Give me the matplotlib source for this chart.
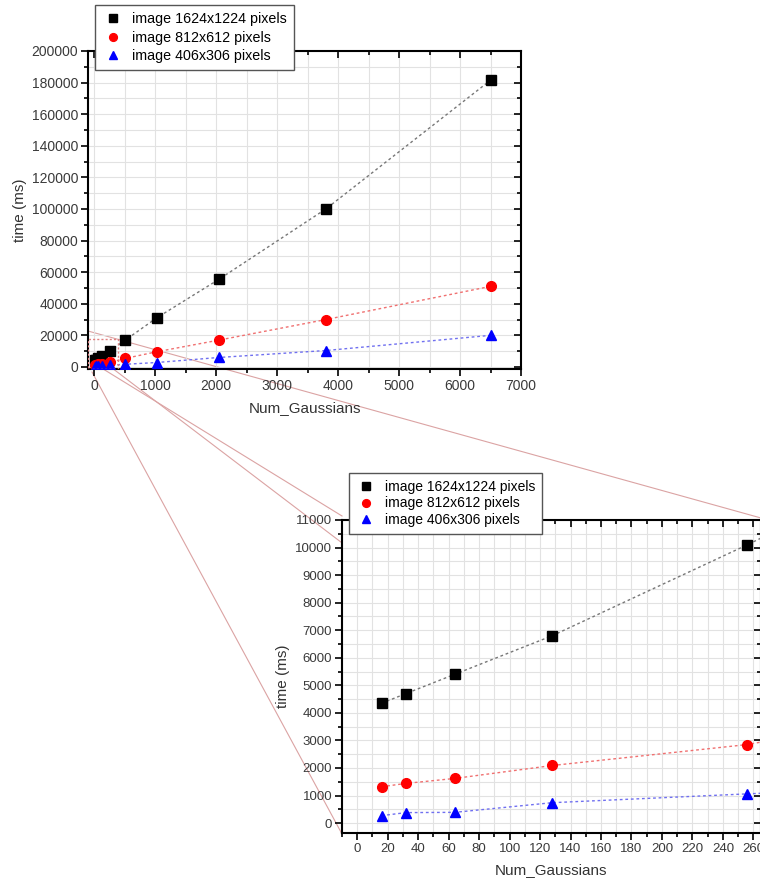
import numpy as np
import matplotlib.pyplot as plt
from matplotlib.lines import Line2D
from matplotlib.patches import Rectangle
from matplotlib.ticker import MultipleLocator

# number of gaussians and run time (ms) per image size
num_gaussians = [16, 32, 64, 128, 256, 512, 1024, 2048, 3800, 6500]
time_1624 = [4350, 4700, 5400, 6800, 10100, 17000, 31000, 55500, 100000, 181500]
time_812 = [1320, 1440, 1620, 2090, 2850, 5400, 9600, 17000, 30000, 51000]
time_406 = [270, 380, 390, 740, 1060, 1700, 2800, 6000, 10400, 20000]

labels = ["image 1624x1224 pixels", "image 812x612 pixels", "image 406x306 pixels"]
series = [time_1624, time_812, time_406]
markers = ["s", "o", "^"]
colors = ["black", "red", "blue"]
line_colors = ["#777777", "#f07070", "#7070f0"]

W, H = 760, 882
plt.rcParams.update({"font.family": ["Liberation Sans", "DejaVu Sans"]})
fig = plt.figure(figsize=(W / 100, H / 100), dpi=100)


def px_box(left, top, right, bottom):
    return [left / W, 1 - bottom / H, (right - left) / W, (bottom - top) / H]


def fig_xy(x, y):
    return x / W, 1 - y / H


def style_axes(ax, tick_fs):
    for s in ax.spines.values():
        s.set_linewidth(1.5)
    ax.tick_params(which="both", top=True, right=True, colors="black",
                   labelcolor="#3a3a3a", labelsize=tick_fs, width=1.2, pad=2)
    ax.tick_params(which="major", length=5)
    ax.tick_params(which="minor", length=3)
    ax.tick_params(axis="both", which="both", direction="out")
    # top/right ticks point inward, like the original
    for t in ax.xaxis.get_major_ticks() + ax.xaxis.get_minor_ticks():
        t.tick2line.set_marker(3)
    for t in ax.yaxis.get_major_ticks() + ax.yaxis.get_minor_ticks():
        t.tick2line.set_marker(0)
    ax.grid(which="both", color="#e2e2e2", linewidth=0.8)
    ax.set_axisbelow(True)


def draw(ax, ms):
    for ys, m, c, lc, lab in zip(series, markers, colors, line_colors, labels):
        ax.plot(num_gaussians, ys, linestyle=(0, (2, 2)), color=lc, linewidth=1.0, zorder=2)
        ax.plot(num_gaussians, ys, linestyle="none", marker=m, color=c,
                markersize=ms, label=lab, zorder=3)


# connector lines between the zoom box and the inset (drawn under the inset)
connectors = [((88, 331), (761, 518)), ((95, 364), (342, 516)),
              ((112, 368), (400, 587)), ((92, 372), (342, 834))]
for p0, p1 in connectors:
    (x0, y0), (x1, y1) = fig_xy(*p0), fig_xy(*p1)
    fig.add_artist(Line2D([x0, x1], [y0, y1], color="#dba3a3", linewidth=0.8, zorder=0))

# main axes
ax1 = fig.add_axes(px_box(88, 51, 521, 369))
ax1.patch.set_alpha(0)
draw(ax1, 7)
ax1.set_xlim(-100, 7000)
ax1.set_ylim(-1300, 200000)
ax1.xaxis.set_major_locator(MultipleLocator(1000))
ax1.xaxis.set_minor_locator(MultipleLocator(500))
ax1.yaxis.set_major_locator(MultipleLocator(20000))
ax1.yaxis.set_minor_locator(MultipleLocator(10000))
style_axes(ax1, 10)
ax1.set_xlabel("Num_Gaussians", fontsize=11, color="#333333", labelpad=6)
ax1.set_ylabel("time (ms)", fontsize=11, color="#333333", labelpad=3)
ax1.add_patch(Rectangle((-100, -1300), 500, 19000, fill=False, edgecolor="#e08080",
                        linestyle=(0, (1.5, 1.5)), linewidth=1.0, zorder=4))

# zoomed axes
ax2 = fig.add_axes(px_box(342, 520, 761, 833))
ax2.set_facecolor("white")
ax2.set_zorder(2)
draw(ax2, 7)
ax2.set_xlim(-10, 265)
ax2.set_ylim(-360, 11000)
ax2.xaxis.set_major_locator(MultipleLocator(20))
ax2.xaxis.set_minor_locator(MultipleLocator(10))
ax2.yaxis.set_major_locator(MultipleLocator(1000))
ax2.yaxis.set_minor_locator(MultipleLocator(500))
style_axes(ax2, 9.5)
ax2.set_xlabel("Num_Gaussians", fontsize=11, color="#333333", labelpad=6)
ax2.set_ylabel("time (ms)", fontsize=11, color="#333333", labelpad=4)

for ax, fs, anchor, spacing in [(ax1, 10.3, (95, 5), 0.32), (ax2, 10, (349, 473), 0.18)]:
    leg = fig.legend(handles=ax.get_legend_handles_labels()[0], labels=labels,
                     loc="upper left", bbox_to_anchor=fig_xy(*anchor), borderaxespad=0,
                     fontsize=fs, frameon=True, fancybox=False, borderpad=0.5,
                     labelspacing=spacing, handletextpad=0.6, handlelength=1.5,
                     markerscale=0.8, framealpha=1)
    leg.get_frame().set_edgecolor("#555555")
    leg.get_frame().set_linewidth(1.0)
    leg.set_zorder(5)

fig.savefig("out.png", dpi=100)
